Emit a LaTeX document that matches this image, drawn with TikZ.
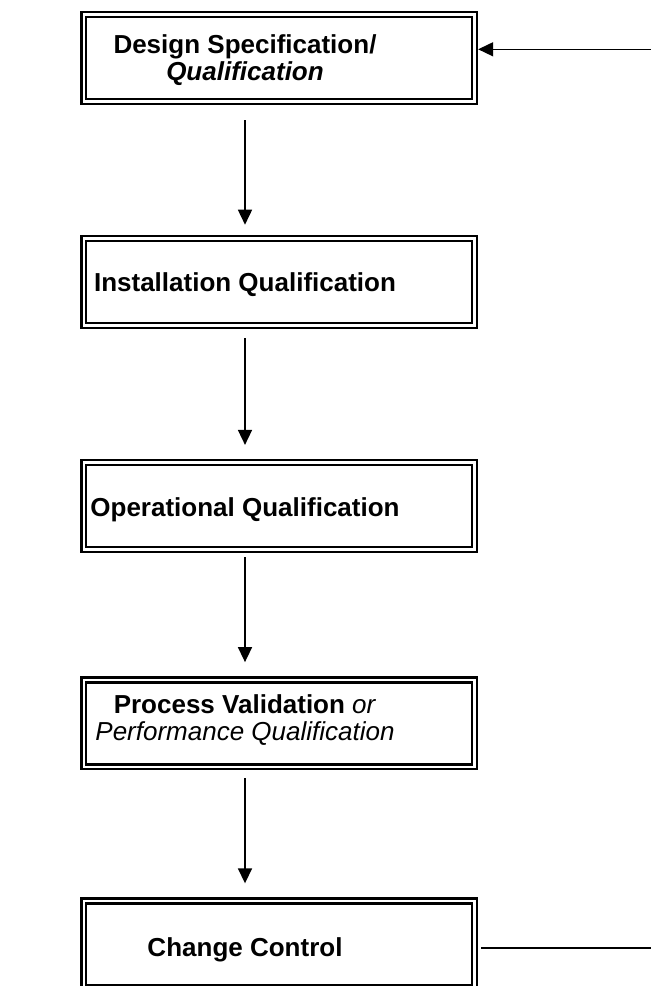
\documentclass[tikz,border=0pt]{standalone}
\usepackage{fontspec}
\setmainfont{Liberation Sans}
\usetikzlibrary{arrows.meta}
\tikzset{
  qualbox/.style={draw, double, line width=0.05cm, double distance=0.048cm,
    minimum width=7.816cm, minimum height=1.74cm, outer sep=0.074cm, inner sep=0pt},
  qualtext/.style={font=\fontsize{14.8}{15}\selectfont\bfseries, align=center, inner sep=0pt},
  flow/.style={-{Triangle[length=0.3cm,width=0.28cm]}, line width=0.9pt},
}
\begin{document}
\begin{tikzpicture}[x=0.02cm, y=-0.02cm]
  \useasboundingbox (0,0) rectangle (651,986);
  \coordinate (spine) at (245,0);
  % the five stages
  \node [qualbox] (ds) at (279.1,58) {};
  \node [qualbox] (iq) at (279.1,281.9) {};
  \node [qualbox] (oq) at (279.1,506.1) {};
  \node [qualbox] (pq) at (279.1,723.3) {};
  \node [qualbox] (cc) at (279.1,944.5) {};
  \node [qualtext] (dstext) at (245,60.2) {Design Specification/\\ \textit{Qualification}};
  \node [qualtext] (iqtext) at (245,284.5) {Installation Qualification};
  \node [qualtext] (oqtext) at (245,510) {Operational Qualification};
  \node [qualtext] (pqtext) at (245,720.2) {Process Validation \textit{\mdseries or}\\
    \textit{\mdseries Performance Qualification}};
  \node [qualtext] (cctext) at (245,950) {Change Control};
  % arrows down the chain
  \draw [flow, shorten <=0.3cm, shorten >=0.2cm] (ds.south -| spine) -- (iq.north -| spine);
  \draw [flow, shorten <=0.18cm, shorten >=0.28cm] (iq.south -| spine) -- (oq.north -| spine);
  \draw [flow, shorten <=0.08cm, shorten >=0.28cm] (oq.south -| spine) -- (pq.north -| spine);
  \draw [flow, shorten <=0.16cm, shorten >=0.28cm] (pq.south -| spine) -- (cc.north -| spine);
  % loop back on the right
  \coordinate (feedin) at (651,49.3);
  \coordinate (feedout) at (651,948);
  \draw [flow] (feedin) -- (feedin -| ds.east);
  \draw [line width=0.9pt, shorten <=0.06cm] (cc.east |- feedout) -- (feedout);
\end{tikzpicture}
\end{document}
